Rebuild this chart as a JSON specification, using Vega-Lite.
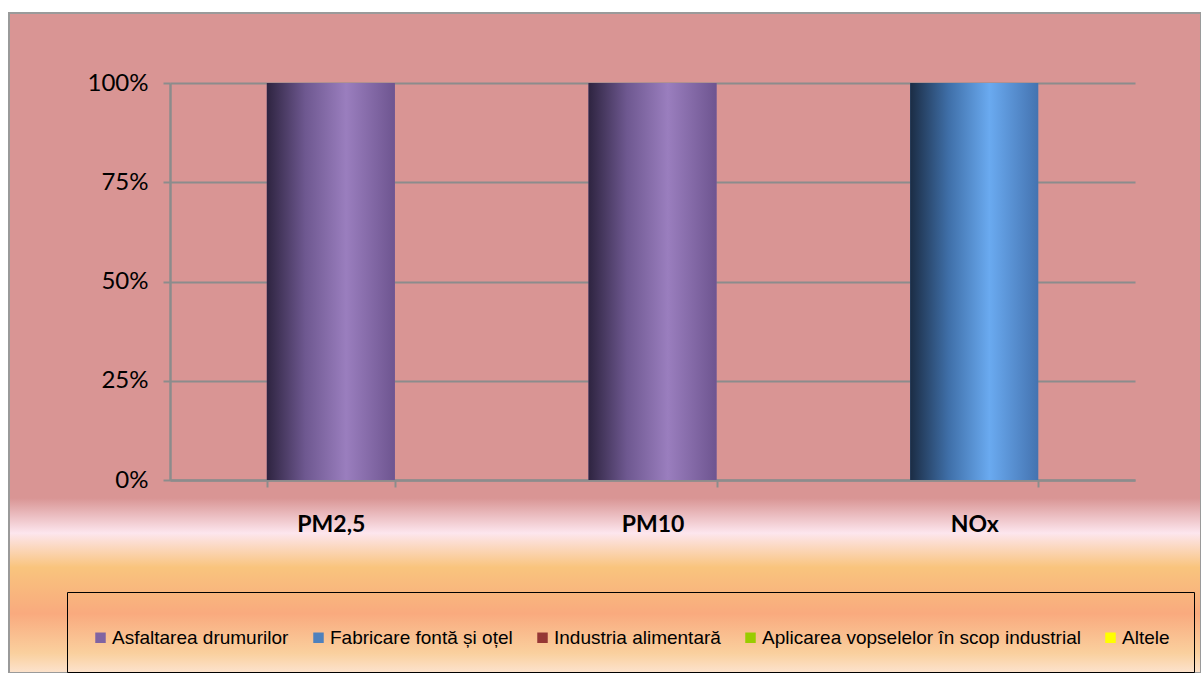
{
  "$schema": "https://vega.github.io/schema/vega-lite/v6.json",
  "width": 1192,
  "height": 660,
  "autosize": {"type": "none"},
  "padding": {"left": 9, "top": 13, "right": 0, "bottom": 0},
  "background": "#FFFFFF",
  "view": {
    "fill": {
      "gradient": "linear", "x1": 0, "y1": 0, "x2": 0, "y2": 1,
      "stops": [
        {"offset": 0, "color": "#D99594"},
        {"offset": 0.735, "color": "#D99594"},
        {"offset": 0.788, "color": "#FDE6EE"},
        {"offset": 0.84, "color": "#F9C47D"},
        {"offset": 0.91, "color": "#F9AA7E"},
        {"offset": 0.97, "color": "#FAD09E"},
        {"offset": 1, "color": "#FCE3CE"}
      ]
    },
    "stroke": "#9A9A9A",
    "strokeWidth": 2
  },
  "data": {
    "values": [
      {"pollutant": "PM2,5", "source": "Asfaltarea drumurilor", "share": 1},
      {"pollutant": "PM10", "source": "Asfaltarea drumurilor", "share": 1},
      {"pollutant": "NOx", "source": "Fabricare fontă și oțel", "share": 1}
    ]
  },
  "encoding": {
    "x": {
      "field": "pollutant", "type": "nominal", "sort": ["PM2,5", "PM10", "NOx"],
      "scale": {"range": [161, 1126], "paddingInner": 0.602, "paddingOuter": 0.301},
      "axis": {
        "title": null, "orient": "bottom", "offset": -193,
        "labelAngle": 0, "labelFont": "Lato", "labelFontWeight": "bold", "labelFontSize": 23,
        "labelColor": "#000000", "labelPadding": 26,
        "domainColor": "#8C8C8C", "domainWidth": 2.5,
        "tickColor": "#8C8C8C", "tickWidth": 2, "tickSize": 7, "tickBand": "extent",
        "grid": false
      }
    },
    "y": {
      "field": "share", "type": "quantitative",
      "scale": {"domain": [0, 1], "range": [467, 70], "nice": false},
      "axis": {
        "title": null, "orient": "left", "offset": -161,
        "values": [0, 0.25, 0.5, 0.75, 1], "format": ".0%",
        "labelFont": "Lato", "labelFontSize": 24, "labelColor": "#000000", "labelPadding": 15,
        "domainColor": "#8C8C8C", "domainWidth": 2.5,
        "tickColor": "#8C8C8C", "tickWidth": 2, "tickSize": 7,
        "grid": true, "gridColor": "#8C8C8C", "gridWidth": 2
      }
    }
  },
  "layer": [
    {
      "mark": {"type": "bar"},
      "encoding": {
        "color": {
          "field": "source", "type": "nominal",
          "scale": {
            "domain": ["Asfaltarea drumurilor", "Fabricare fontă și oțel", "Industria alimentară", "Aplicarea vopselelor în scop industrial", "Altele"],
            "range": ["#8064A2", "#4F81BD", "#953735", "#99CC00", "#FFFF00"]
          },
          "legend": {
            "title": " ", "titleFontSize": 1, "titlePadding": 11,
            "orient": "none", "legendX": 58, "legendY": 579,
            "direction": "horizontal", "columns": 5, "columnPadding": 20,
            "padding": 24, "strokeColor": "#000000", "fillColor": null,
            "symbolType": "square", "symbolSize": 110, "symbolStrokeWidth": 0, "symbolOffset": 0,
            "labelFont": "Liberation Sans", "labelFontSize": 19, "labelColor": "#000000",
            "labelOffset": 2, "labelLimit": 500
          }
        }
      }
    },
    {
      "mark": {"type": "bar"},
      "encoding": {
        "fill": {
          "condition": {
            "test": "datum.source === 'Fabricare fontă și oțel'",
            "value": {
              "gradient": "linear", "x1": 0, "y1": 0, "x2": 1, "y2": 0,
              "stops": [
                {"offset": 0, "color": "#1B2C44"},
                {"offset": 0.3, "color": "#3F6FA8"},
                {"offset": 0.62, "color": "#6AAAF0"},
                {"offset": 1, "color": "#4473B0"}
              ]
            }
          },
          "value": {
            "gradient": "linear", "x1": 0, "y1": 0, "x2": 1, "y2": 0,
            "stops": [
              {"offset": 0, "color": "#2E2440"},
              {"offset": 0.3, "color": "#6E5890"},
              {"offset": 0.62, "color": "#9A7EBE"},
              {"offset": 1, "color": "#6E5590"}
            ]
          }
        }
      }
    }
  ]
}
